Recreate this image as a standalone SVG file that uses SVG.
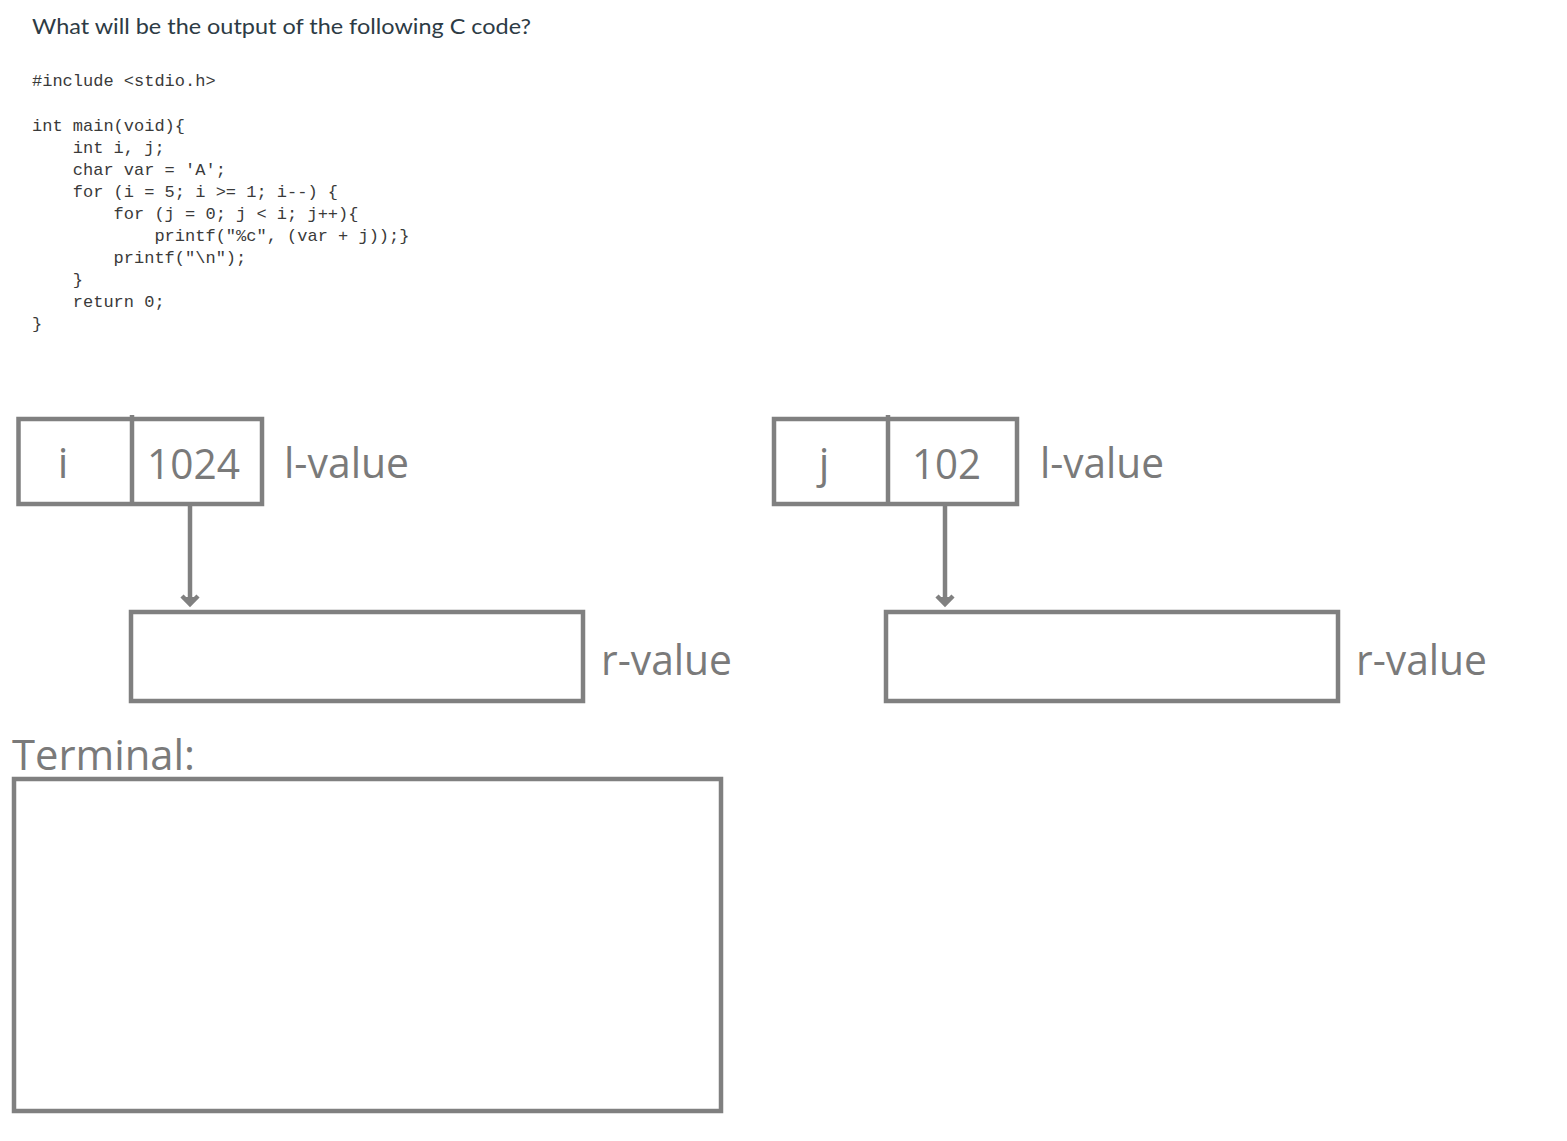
<svg xmlns="http://www.w3.org/2000/svg" width="1567" height="1141" viewBox="0 0 1567 1141">
<defs>
<style>
.title{font-family:Lato,"Open Sans",sans-serif;font-size:22px;fill:#2d3b45}
.code{font-family:"Liberation Mono","DejaVu Sans Mono",monospace;font-size:17px;fill:#3a3a3a;white-space:pre}
.lbl{font-family:"Open Sans","Noto Sans",sans-serif;font-size:42px;fill:#7a7a7a}
.box{fill:none;stroke:#808080;stroke-width:4.5}
.conn{fill:none;stroke:#808080;stroke-width:4.5}
</style>
<marker id="ah" markerUnits="userSpaceOnUse" markerWidth="22" markerHeight="16" refX="11" refY="11" orient="0" viewBox="0 0 22 16">
<path d="M3,3 L11,11 L19,3" fill="none" stroke="#808080" stroke-width="4.5"/>
<path d="M6,4 L11,9 L16,4 Z" fill="#808080"/>
</marker>
</defs>
<rect width="1567" height="1141" fill="#ffffff"/>
<g id="question">
<text class="title" x="32" y="34" textLength="499" lengthAdjust="spacingAndGlyphs">What will be the output of the following C code?</text>
</g>
<g id="code">
<text class="code" x="32" y="86">#include &lt;stdio.h&gt;</text>
<text class="code" x="32" y="131">int main(void){</text>
<text class="code" x="32" y="153">    int i, j;</text>
<text class="code" x="32" y="175">    char var = 'A';</text>
<text class="code" x="32" y="197">    for (i = 5; i &gt;= 1; i--) {</text>
<text class="code" x="32" y="219">        for (j = 0; j &lt; i; j++){</text>
<text class="code" x="32" y="241">            printf("%c", (var + j));}</text>
<text class="code" x="32" y="263">        printf("\n");</text>
<text class="code" x="32" y="285">    }</text>
<text class="code" x="32" y="307">    return 0;</text>
<text class="code" x="32" y="329">}</text>
</g>
<g id="node-i">
<rect class="box" x="18.5" y="419" width="243.5" height="85"/>
<line class="box" x1="132" y1="415" x2="132" y2="504"/>
<text class="lbl" x="63" y="478" text-anchor="middle">i</text>
<text class="lbl" x="147" y="479" textLength="93" lengthAdjust="spacingAndGlyphs">1024</text>
<text class="lbl" x="284" y="478" textLength="125" lengthAdjust="spacingAndGlyphs">l-value</text>
</g>
<g id="node-j">
<rect class="box" x="774" y="419" width="243" height="85"/>
<line class="box" x1="888" y1="415" x2="888" y2="504"/>
<text class="lbl" x="824" y="478" text-anchor="middle">j</text>
<text class="lbl" x="912" y="479" textLength="69" lengthAdjust="spacingAndGlyphs">102</text>
<text class="lbl" x="1040" y="478" textLength="124" lengthAdjust="spacingAndGlyphs">l-value</text>
</g>
<g id="node-rvalue-i">
<rect class="box" x="131" y="612" width="452" height="89"/>
<text class="lbl" x="601" y="675" textLength="131" lengthAdjust="spacingAndGlyphs">r-value</text>
</g>
<g id="node-rvalue-j">
<rect class="box" x="886" y="612" width="452" height="89"/>
<text class="lbl" x="1356" y="675" textLength="131" lengthAdjust="spacingAndGlyphs">r-value</text>
</g>
<g id="node-terminal">
<text class="lbl" x="12" y="770" textLength="183" lengthAdjust="spacingAndGlyphs">Terminal:</text>
<rect class="box" x="14" y="779" width="707" height="332"/>
</g>
<g id="connectors">
<line class="conn" x1="190" y1="506" x2="190" y2="604" marker-end="url(#ah)"/>
<line class="conn" x1="945" y1="506" x2="945" y2="604" marker-end="url(#ah)"/>
</g>
</svg>
